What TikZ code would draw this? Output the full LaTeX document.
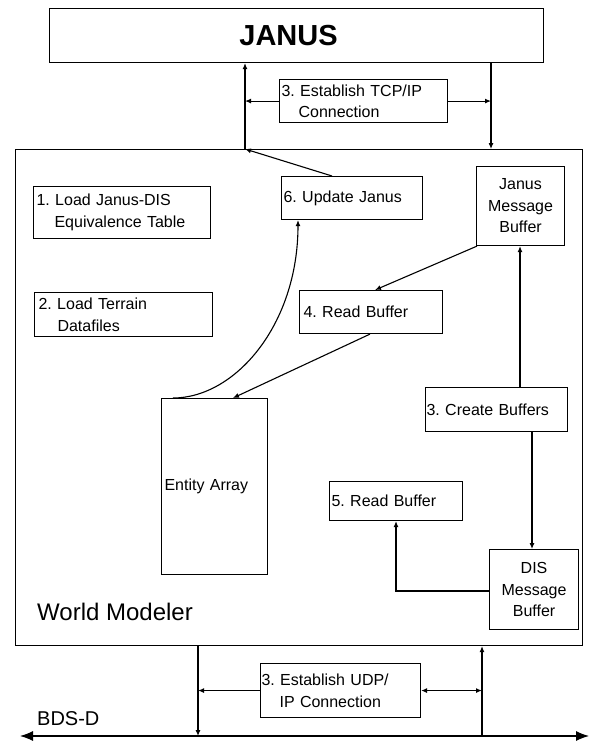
\documentclass[tikz,border=0pt]{standalone}
\usepackage{fontspec}
\setmainfont{Liberation Sans}
\usetikzlibrary{arrows.meta,calc}
\frenchspacing
\begin{document}
\begin{tikzpicture}[x=1pt,y=-1pt,
  every node/.style={inner sep=0pt, font=\fontsize{16}{21.5}\selectfont},
  box/.style={draw, line width=1.1pt, anchor=north west, inner ysep=0pt, align=left},
  cbox/.style={draw, line width=1.1pt, anchor=north west, inner sep=0pt, align=center},
  conn/.style={line width=1.1pt, -{Latex[length=6pt,width=5pt]}},
  dconn/.style={line width=1.1pt, {Latex[length=6pt,width=5pt]}-{Latex[length=6pt,width=5pt]}},
  bus/.style={line width=1.1pt, {Latex[length=13pt,width=10pt]}-{Latex[length=13pt,width=10pt]}}]
\useasboundingbox (0,0) rectangle (590,742);

% boxes
\node[cbox, minimum width=494pt, minimum height=54pt, font=\fontsize{29}{30}\selectfont\bfseries] (janus) at (49,8) {JANUS\hspace*{16pt}};
\node[box, text width=164pt, inner xsep=2pt, minimum height=43pt] (tcp) at (279,79) {3. Establish TCP/IP\\\hspace*{17pt}Connection};
\node[box, minimum width=567pt, minimum height=496pt] (wm) at (15,149) {};
\node[box, text width=137pt, inner xsep=2pt, minimum height=43pt] (upd) at (281,176) {6. Update Janus};
\node[cbox, minimum width=88pt, minimum height=79pt] (jmb) at (476,166) {Janus\\Message\\Buffer};
\node[box, text width=171pt, inner xsep=3pt, minimum height=52pt] (ljd) at (33,186) {1. Load Janus-DIS\\\hspace*{18pt}Equivalence Table};
\node[box, text width=170pt, inner xsep=4pt, minimum height=44pt] (lt) at (34,292) {2. Load Terrain\\\hspace*{19pt}Datafiles};
\node[box, text width=135pt, inner xsep=4pt, minimum height=43pt] (rb4) at (299,290) {4. Read Buffer};
\node[box, text width=100pt, inner xsep=3pt, minimum height=176pt] (ent) at (161,398) {Entity Array};
\node[box, text width=140pt, inner xsep=1pt, minimum height=44pt] (cb) at (425,387) {3. Create Buffers};
\node[box, text width=129pt, inner xsep=2pt, minimum height=39pt] (rb5) at (329,481) {5. Read Buffer};
\node[cbox, minimum width=89pt, minimum height=80pt] (dis) at (489,549) {DIS\\Message\\Buffer};
\node[box, text width=158pt, inner xsep=1pt, minimum height=54pt] (udp) at (260,663) {3. Establish UDP/\\\hspace*{18pt}IP Connection};

% free labels
\node[anchor=west, font=\fontsize{24}{26}\selectfont] (wmlabel) at (37,612) {World Modeler};
\node[anchor=west, font=\fontsize{20}{22}\selectfont] (bds) at (37,719) {BDS-D};

% top connectors
\coordinate (jl) at (245,149);
\coordinate (jr) at (491,149);
\draw[conn] (jl) -- (jl |- janus.south);
\draw[conn] (tcp.west) -- (jl |- tcp.west);
\draw[conn] (jr |- janus.south) -- (jr);
\draw[conn] (tcp.east) -- (jr |- tcp.east);
\draw[conn] ($(upd.north west)+(51,0)$) -- (jl);

% inner connectors
\draw[conn] ($(jmb.south west)+(1,0)$) -- ($(rb4.north west)+(76,0)$);
\draw[conn] ($(rb4.south west)+(71,0)$) -- ($(ent.north west)+(72,0)$);
\draw[conn] ($(ent.north west)+(12,0)$) .. controls (235,398) and (298,325) .. ($(upd.south west)+(17,0)$);
\draw[conn] ($(cb.north west)+(95,0)$) -- ($(jmb.south west)+(44,0)$);
\draw[conn] ($(cb.south west)+(107,0)$) -- ($(dis.north west)+(43,0)$);
\draw[conn] ($(dis.north west)+(0,42)$) -| ($(rb5.south west)+(67,0)$);

% bottom connectors
\coordinate (bl) at (198,736);
\coordinate (br) at (482,736);
\coordinate (bw) at (20,736);
\coordinate (be) at (589,736);
\draw[bus] (bw) -- (be);
\draw[conn] (bl |- wm.south) -- (bl);
\draw[conn] (br) -- (br |- wm.south);
\draw[conn] (udp.west) -- (bl |- udp.west);
\draw[dconn] (udp.east) -- (br |- udp.east);
\end{tikzpicture}
\end{document}
